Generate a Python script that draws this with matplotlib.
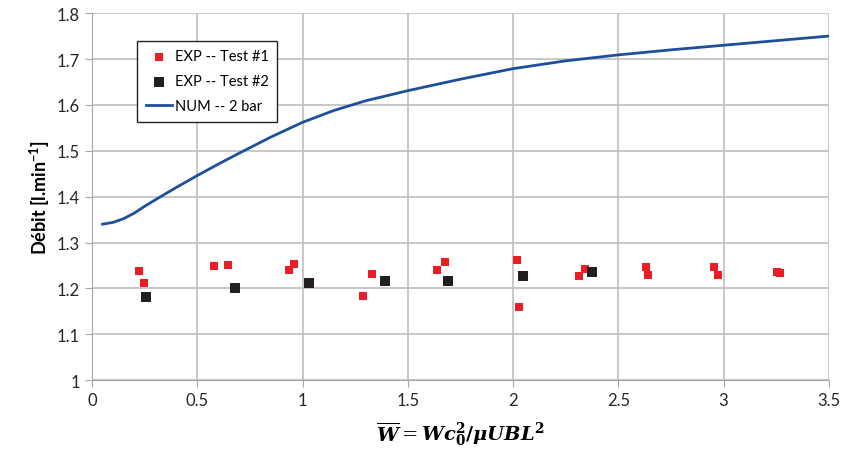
import matplotlib
matplotlib.use('Agg')
import matplotlib.pyplot as plt

# measured points
test1_x = [0.223, 0.247, 0.579, 0.646, 0.935, 0.959, 1.287, 1.330, 1.638, 1.679,
           2.021, 2.028, 2.312, 2.341, 2.631, 2.640, 2.953, 2.972, 3.253, 3.267]
test1_y = [1.238, 1.212, 1.249, 1.251, 1.240, 1.254, 1.184, 1.232, 1.240, 1.258,
           1.262, 1.159, 1.227, 1.242, 1.247, 1.229, 1.247, 1.229, 1.236, 1.234]
test2_x = [0.258, 0.681, 1.030, 1.393, 1.692, 2.048, 2.376]
test2_y = [1.182, 1.200, 1.211, 1.217, 1.217, 1.228, 1.235]

# numerical curve
num_x = [0.05, 0.1, 0.15, 0.2, 0.25, 0.3, 0.4, 0.5, 0.6, 0.7, 0.85, 1.0, 1.15, 1.3, 1.5,
         1.75, 2.0, 2.25, 2.5, 2.75, 3.0, 3.25, 3.5]
num_y = [1.340, 1.344, 1.352, 1.364, 1.379, 1.393, 1.420, 1.446, 1.471, 1.495, 1.530,
         1.562, 1.588, 1.609, 1.631, 1.656, 1.679, 1.696, 1.709, 1.720, 1.730, 1.740, 1.750]

plt.rcParams['font.family'] = ['Lato', 'DejaVu Sans']
plt.rcParams['mathtext.fontset'] = 'dejavuserif'

fig = plt.figure(figsize=(8.44, 4.56), dpi=100)
ax = fig.add_axes([0.109, 0.164, 0.873, 0.805])

ax.plot(num_x, num_y, color='#1f4e9c', lw=2, label='NUM -- 2 bar', zorder=2)
ax.scatter(test1_x, test1_y, marker='s', s=30, color='#ee1c25', lw=0, label='EXP -- Test #1', zorder=3)
ax.scatter(test2_x, test2_y, marker='s', s=44, color='#231f20', lw=0, label='EXP -- Test #2', zorder=3)

ax.set_xlim(0, 3.5)
ax.set_ylim(1, 1.8)
ax.set_xticks([0, 0.5, 1, 1.5, 2, 2.5, 3, 3.5])
ax.set_xticklabels(['0', '0.5', '1', '1.5', '2', '2.5', '3', '3.5'])
ax.set_yticks([1, 1.1, 1.2, 1.3, 1.4, 1.5, 1.6, 1.7, 1.8])
ax.set_yticklabels(['1', '1.1', '1.2', '1.3', '1.4', '1.5', '1.6', '1.7', '1.8'])
ax.grid(True, color='#bfbfbf', lw=1.2)
ax.set_axisbelow(True)
for s in ['top', 'right']:
    ax.spines[s].set_visible(False)
for s in ['left', 'bottom']:
    ax.spines[s].set_color('#a6a6a6')
ax.tick_params(colors='#a6a6a6', labelcolor='#262626', labelsize=12, length=5)

ax.set_ylabel('Débit [l.min$^{\\mathregular{-1}}$]', fontsize=13, fontweight='bold')
ax.set_xlabel(r'$\overline{\mathbfit{W}} = \mathbfit{Wc}_\mathbf{0}^\mathbf{2}\mathbf{/}\mathbfit{\mu UBL}^\mathbf{2}$',
              fontsize=14, labelpad=8)

h, l = ax.get_legend_handles_labels()
order = [1, 2, 0]
leg = ax.legend([h[i] for i in order], [l[i] for i in order],
                loc='upper left', bbox_to_anchor=(0.061, 0.925), fontsize=10.5,
                fancybox=False, edgecolor='#222222', framealpha=1,
                handlelength=1.8, handletextpad=0.2, borderpad=0.6,
                labelspacing=0.75, borderaxespad=0)
leg.get_frame().set_linewidth(1)

fig.savefig('out.png', dpi=100)
